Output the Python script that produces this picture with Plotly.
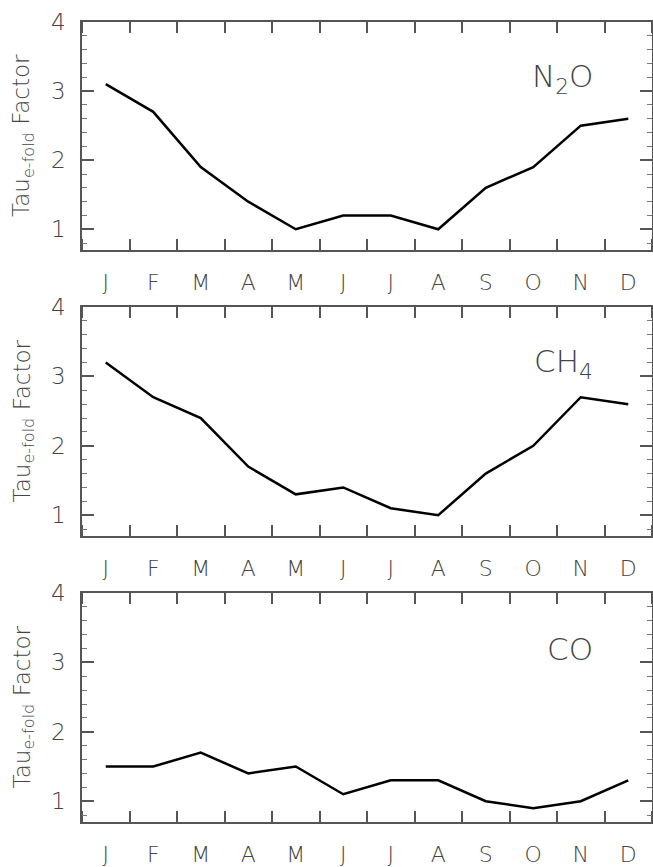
import plotly.graph_objects as go

months = ["J", "F", "M", "A", "M", "J", "J", "A", "S", "O", "N", "D"]
n2o = [3.1, 2.7, 1.9, 1.4, 1.0, 1.2, 1.2, 1.0, 1.6, 1.9, 2.5, 2.6]
ch4 = [3.2, 2.7, 2.4, 1.7, 1.3, 1.4, 1.1, 1.0, 1.6, 2.0, 2.7, 2.6]
co = [1.5, 1.5, 1.7, 1.4, 1.5, 1.1, 1.3, 1.3, 1.0, 0.9, 1.0, 1.3]
species = ["N<sub>2</sub>O", "CH<sub>4</sub>", "CO"]
series = [n2o, ch4, co]
yticks = [1, 2, 3, 4]

W, H = 653, 867
x0, x1 = 82, 652
panels = [(22, 250), (307, 536), (593, 822)]  # top, bottom in px

fig = go.Figure()
axcol = "#555555"
txtcol = "#444444"
font = "DejaVu Sans"
xidx = list(range(len(months)))

for i, (vals, (top, bot)) in enumerate(zip(series, panels)):
    sfx = "" if i == 0 else str(i + 1)
    fig.add_trace(go.Scatter(x=xidx, y=vals, mode="lines",
                             line=dict(color="black", width=2.5),
                             xaxis="x" + sfx, yaxis="y" + sfx, showlegend=False))
    dom_y = [1 - bot / H, 1 - top / H]
    fig.layout["xaxis" + sfx] = dict(
        domain=[x0 / W, x1 / W], range=[-0.5, 11.5], anchor="y" + sfx,
        tickmode="array", tickvals=xidx, ticktext=months, ticks="",
        showline=True, linecolor=axcol, linewidth=1.5, mirror="allticks",
        showgrid=False, zeroline=False, automargin=False,
        tickfont=dict(family=font, size=22, color=txtcol, weight=200), ticklabelstandoff=12,
        minor=dict(tickmode="linear", tick0=0.5, dtick=1, ticks="inside",
                   ticklen=11, tickwidth=1.5, tickcolor=axcol, showgrid=False),
    )
    fig.layout["yaxis" + sfx] = dict(
        domain=dom_y, range=[0.7, 4.0001], anchor="x" + sfx,
        tickmode="array", tickvals=yticks, ticks="inside", ticklen=12,
        tickwidth=1.5, tickcolor=axcol,
        showline=True, linecolor=axcol, linewidth=1.5, mirror="allticks",
        showgrid=False, zeroline=False, automargin=False,
        tickfont=dict(family=font, size=23, color=txtcol, weight=200), ticklabelstandoff=10,
        minor=dict(tickmode="linear", tick0=0, dtick=0.2, ticks="inside",
                   ticklen=5, tickwidth=1, tickcolor="#777777", showgrid=False),
    )
    fig.add_annotation(text=species[i], xref="x" + sfx + " domain", yref="y" + sfx + " domain",
                       x=0.9, y=1 - (56 / 228), xanchor="right", yanchor="middle",
                       showarrow=False, font=dict(family=font, size=31, color=txtcol, weight=200))
    fig.add_annotation(text="Tau<sub>e-fold</sub> Factor", xref="paper", yref="paper",
                       x=23 / W, y=1 - ((top + bot) / 2) / H, xanchor="center", yanchor="middle",
                       textangle=-90, showarrow=False,
                       font=dict(family=font, size=23, color=txtcol, weight=200))

fig.update_layout(width=W, height=H, margin=dict(l=0, r=0, t=0, b=0),
                  plot_bgcolor="white", paper_bgcolor="white")
fig.write_html("out.html")
